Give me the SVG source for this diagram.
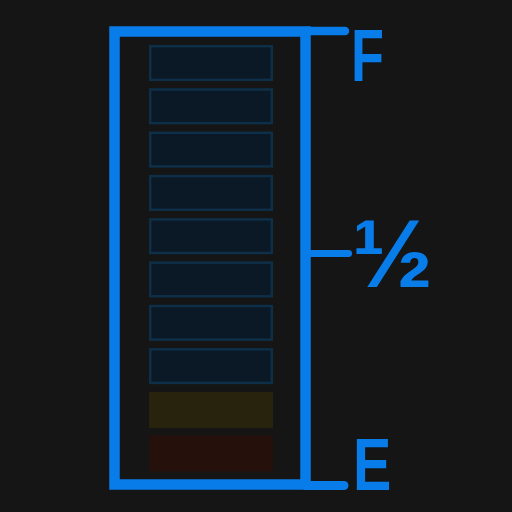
<svg xmlns="http://www.w3.org/2000/svg" width="512" height="512" viewBox="0 0 512 512">
<style>
.bg{fill:#151515}
.cell{fill:#0b1826;stroke:#0e2f48;stroke-width:2.5}
.frame{fill:none;stroke:#087ce8;stroke-width:10.5}
.tick{stroke:#087ce8;stroke-linecap:round;fill:none}
.lbl{font-family:"Liberation Sans",Arial,sans-serif;font-weight:bold;fill:#087ce8}
</style>
<rect class="bg" x="0" y="0" width="512" height="512"/>
<g id="cells">
<rect class="cell" x="150.2" y="46.2" width="121.6" height="33.6"/>
<rect class="cell" x="150.2" y="89.5" width="121.6" height="33.6"/>
<rect class="cell" x="150.2" y="132.8" width="121.6" height="33.6"/>
<rect class="cell" x="150.2" y="176.1" width="121.6" height="33.6"/>
<rect class="cell" x="150.2" y="219.4" width="121.6" height="33.6"/>
<rect class="cell" x="150.2" y="262.7" width="121.6" height="33.6"/>
<rect class="cell" x="150.2" y="306" width="121.6" height="33.6"/>
<rect class="cell" x="150.2" y="349.3" width="121.6" height="33.6"/>
<rect x="149" y="392" width="124" height="36" fill="#28230d"/>
<rect x="149" y="435.5" width="124" height="36" fill="#25100b"/>
</g>
<g id="frame">
<rect class="frame" x="114.5" y="31.5" width="191" height="453"/>
</g>
<g id="connectors">
<line class="tick" x1="306" y1="31" x2="345" y2="31" stroke-width="8.5"/>
<line class="tick" x1="310" y1="253.5" x2="348.5" y2="253.5" stroke-width="7"/>
<line class="tick" x1="306" y1="485.5" x2="344" y2="485.5" stroke-width="9"/>
</g>
<g id="labels">
<text class="lbl" x="351" y="81" font-size="75" textLength="33" lengthAdjust="spacingAndGlyphs">F</text>
<text class="lbl" x="353" y="490" font-size="75" textLength="38.3" lengthAdjust="spacingAndGlyphs">E</text>
<text class="lbl" x="352" y="287" font-size="97">½</text>
</g>
</svg>
